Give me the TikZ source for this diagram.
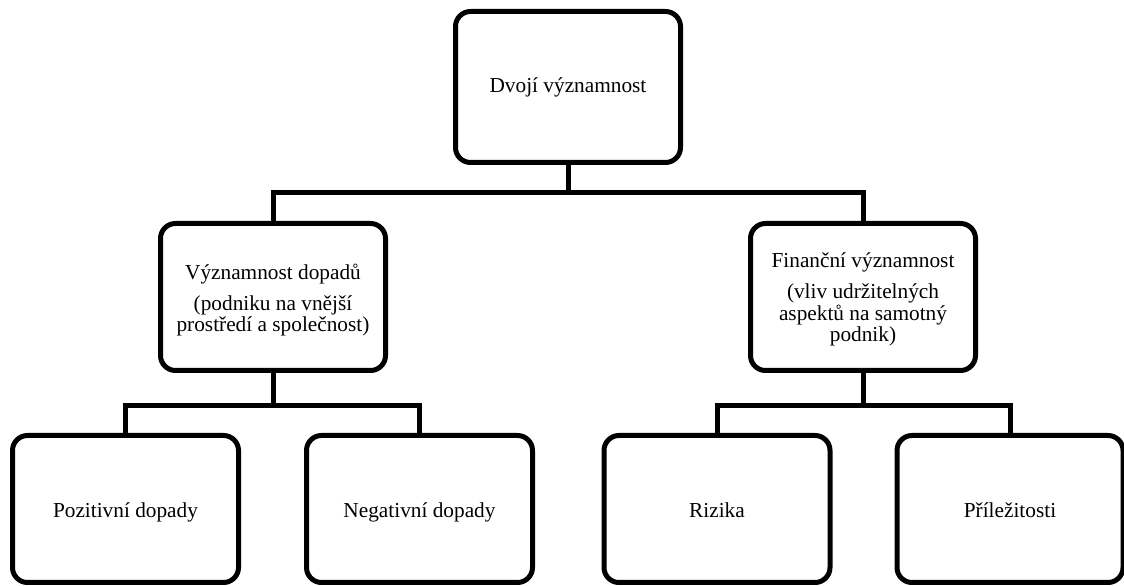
\documentclass[tikz,border=0pt]{standalone}
\usepackage{fontspec}
\setmainfont{Liberation Serif}
\begin{document}
\begin{tikzpicture}[x=1pt,y=1pt,
  box/.style={draw=black, line width=5pt, rounded corners=15pt, align=center, inner sep=0pt,
    font=\fontsize{21.3}{21.5}\selectfont},
  topbox/.style={box, minimum width=225pt, minimum height=151pt, text height=17pt, text depth=5pt},
  midbox/.style={box, minimum width=225pt, minimum height=147pt},
  botbox/.style={box, minimum width=226pt, minimum height=147pt, text height=20pt, text depth=2pt},
  conn/.style={draw=black, line width=5pt, line join=miter}]
\useasboundingbox (0,0) rectangle (1124,586);
\node[topbox] (top) at (568,499) {Dvojí významnost};
\node[midbox, text height=75pt, text depth=5pt] (ml) at (273,289) {Významnost dopadů\\[9pt](podniku na vnější\\prostředí a společnost)};
\node[midbox, text height=95pt, text depth=5pt] (mr) at (863,289) {Finanční významnost\\[10pt](vliv udržitelných\\aspektů na samotný\\podnik)};
\node[botbox] (b1) at (125.5,77) {Pozitivní dopady};
\node[botbox] (b2) at (419.5,77) {Negativní dopady};
\node[botbox] (b3) at (717,77) {Rizika};
\node[botbox] (b4) at (1010,77) {Příležitosti};
\coordinate (bus1) at (568,393);
\coordinate (bus2) at (273,180);
\coordinate (bus3) at (863,180);
\draw[conn] (top.south) -- (bus1);
\draw[conn] (ml.north) -- (ml.north |- bus1) -- (mr.north |- bus1) -- (mr.north);
\draw[conn] (ml.south) -- (bus2);
\draw[conn] (b1.north) -- (b1.north |- bus2) -- (b2.north |- bus2) -- (b2.north);
\draw[conn] (mr.south) -- (bus3);
\draw[conn] (b3.north) -- (b3.north |- bus3) -- (b4.north |- bus3) -- (b4.north);
\end{tikzpicture}
\end{document}
